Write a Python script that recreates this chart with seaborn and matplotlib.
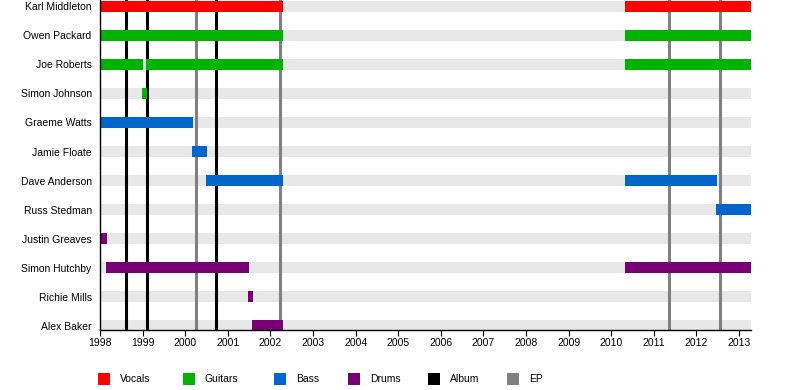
import matplotlib
matplotlib.use("Agg")
import matplotlib.pyplot as plt
import pandas as pd
import seaborn as sns
from matplotlib.patches import Rectangle

sns.set_theme(style="white")
plt.rcParams['font.family'] = ['Liberation Sans', 'DejaVu Sans']

# ------------------------
# Data (decimal years)
# ------------------------
members = ["Karl Middleton", "Owen Packard", "Joe Roberts", "Simon Johnson",
           "Graeme Watts", "Jamie Floate", "Dave Anderson", "Russ Stedman",
           "Justin Greaves", "Simon Hutchby", "Richie Mills", "Alex Baker"]

bar_member = ["Karl Middleton", "Karl Middleton",
              "Owen Packard", "Owen Packard",
              "Joe Roberts", "Joe Roberts", "Joe Roberts",
              "Simon Johnson",
              "Graeme Watts",
              "Jamie Floate",
              "Dave Anderson", "Dave Anderson",
              "Russ Stedman",
              "Justin Greaves",
              "Simon Hutchby", "Simon Hutchby",
              "Richie Mills",
              "Alex Baker"]
bar_role = ["Vocals", "Vocals",
            "Guitars", "Guitars",
            "Guitars", "Guitars", "Guitars",
            "Guitars",
            "Bass",
            "Bass",
            "Bass", "Bass",
            "Bass",
            "Drums",
            "Drums", "Drums",
            "Drums",
            "Drums"]
bar_start = [1998.00, 2010.32,
             1998.00, 2010.32,
             1998.00, 1999.08, 2010.32,
             1998.99,
             1998.00,
             2000.16,
             2000.49, 2010.32,
             2012.46,
             1998.00,
             1998.14, 2010.32,
             2001.47,
             2001.57]
bar_end = [2002.30, 2013.28,
           2002.30, 2013.28,
           1999.02, 2002.30, 2013.28,
           1999.10,
           2000.18,
           2000.51,
           2002.30, 2012.48,
           2013.28,
           1998.16,
           2001.50, 2013.28,
           2001.59,
           2002.30]

album_dates = [1998.61, 1999.10, 2000.72]
ep_dates = [2000.25, 2002.23, 2011.36, 2012.55]

years = list(range(1998, 2014))
timeline_start = 1998.0
timeline_end = 2013.28

roles = ["Vocals", "Guitars", "Bass", "Drums", "Album", "EP"]
role_colors = {"Vocals": "#ff0000", "Guitars": "#00b300", "Bass": "#0066cc",
               "Drums": "#770077", "Album": "#000000", "EP": "#808080"}

df = pd.DataFrame({"member": bar_member, "role": bar_role,
                   "start": bar_start, "end": bar_end})
df["row"] = df["member"].map({m: i for i, m in enumerate(members)})

# ------------------------
# Plot
# ------------------------
fig = plt.figure(figsize=(8, 3.9), dpi=100)
ax = fig.add_axes([100 / 800, 1 - 330 / 390, 651 / 800, 330 / 390])

bar_h = 0.38

# light grey background rows
sns.barplot(x=[timeline_end] * len(members), y=members, color="#e8e8e8",
            saturation=1, width=bar_h, linewidth=0, errorbar=None,
            orient="h", ax=ax, zorder=1)

for d in album_dates:
    ax.axvline(d, color=role_colors["Album"], lw=2.2, zorder=2)
for d in ep_dates:
    ax.axvline(d, color=role_colors["EP"], lw=2.2, zorder=2)

ax.barh(df["row"], df["end"] - df["start"], left=df["start"], height=bar_h,
        color=df["role"].map(role_colors), linewidth=0, zorder=3)

ax.set_xlim(timeline_start, timeline_end)
ax.set_ylim(11.155, -0.224)
ax.set_xticks(years)
ax.set_xticklabels([str(y) for y in years])
ax.set_xlabel("")
ax.set_ylabel("")

ax.tick_params(axis="x", bottom=True, length=4.3, width=0.8, color="black",
               labelsize=7.5, pad=1.5, labelcolor="black")
ax.tick_params(axis="y", left=False, length=0, pad=6, labelsize=7.5,
               labelcolor="black")
for s in ["top", "right"]:
    ax.spines[s].set_visible(False)
for s in ["left", "bottom"]:
    ax.spines[s].set_color("black")
    ax.spines[s].set_linewidth(1.0)
    ax.spines[s].set_zorder(4)

# legend
legend_x = [98, 183, 274, 348, 428, 507]
for role, x in zip(roles, legend_x):
    fig.patches.append(Rectangle((x / 800, 1 - 385 / 390), 12 / 800, 12 / 390,
                                 transform=fig.transFigure,
                                 color=role_colors[role], linewidth=0))
    fig.text((x + 22) / 800, 1 - 379.5 / 390, role, fontsize=7.5,
             va="center", ha="left", color="black")

fig.savefig("out.png", dpi=100)
